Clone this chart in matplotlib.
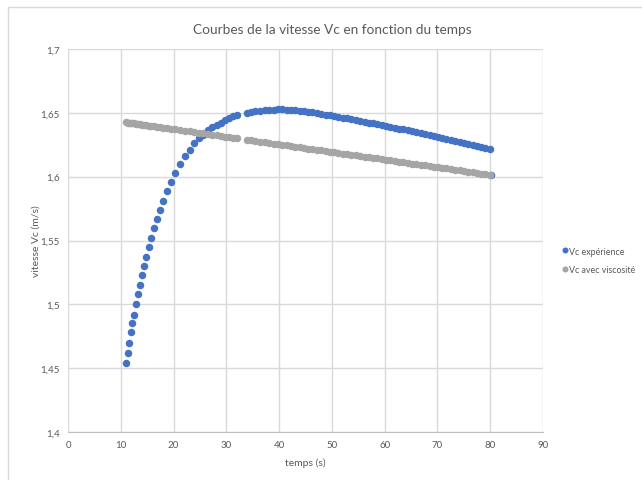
import matplotlib
matplotlib.use("Agg")
import matplotlib.pyplot as plt
from matplotlib.patches import Rectangle

# temps (s), communs aux deux séries
temps = [11.04, 11.30, 11.60, 11.88, 12.17, 12.45, 12.82, 13.20, 13.58, 14.00,
         14.40, 14.85, 15.30, 15.80, 16.30, 16.85, 17.42, 18.00, 18.70, 19.45,
         20.30, 21.20, 22.15, 23.05, 23.90, 24.75, 25.62, 26.50, 27.35, 28.16,
         28.95, 29.73, 30.50, 31.30, 32.07, 33.84, 34.66, 35.47, 36.36, 37.25,
         38.13, 39.0, 39.8, 40.6, 41.4, 42.2, 43.0, 43.9, 44.7, 45.5,
         46.3, 47.1, 48.0, 48.8, 49.6, 50.4, 51.2, 52.1, 52.9, 53.7,
         54.5, 55.3, 56.2, 57.0, 57.8, 58.6, 59.4, 60.3, 61.1, 61.9,
         62.7, 63.5, 64.4, 65.2, 66.0, 66.8, 67.6, 68.5, 69.3, 70.1,
         70.9, 71.7, 72.6, 73.4, 74.2, 75.0, 75.8, 76.7, 77.5, 78.3,
         79.1, 79.9]

# vitesse mesurée (m/s)
v_exp = [1.454, 1.462, 1.470, 1.478, 1.485, 1.492, 1.500, 1.508, 1.515, 1.523,
         1.530, 1.537, 1.545, 1.552, 1.560, 1.567, 1.574, 1.581, 1.589, 1.596,
         1.603, 1.610, 1.616, 1.621, 1.626, 1.630, 1.633, 1.6365, 1.639, 1.6405,
         1.6423, 1.6442, 1.6458, 1.6472, 1.6485, 1.6496, 1.6504, 1.6512, 1.6517, 1.6520,
         1.6523, 1.6525, 1.6527, 1.6527, 1.6526, 1.6524, 1.6521, 1.6517, 1.6514, 1.6509,
         1.6503, 1.6497, 1.6491, 1.6485, 1.6481, 1.6475, 1.6469, 1.6462, 1.6456, 1.6450,
         1.6444, 1.6438, 1.6430, 1.6424, 1.6418, 1.6411, 1.6405, 1.6397, 1.6391, 1.6384,
         1.6377, 1.6371, 1.6363, 1.6356, 1.6349, 1.6342, 1.6335, 1.6327, 1.6320, 1.6313,
         1.6305, 1.6297, 1.6289, 1.6281, 1.6274, 1.6266, 1.6258, 1.6249, 1.6241, 1.6232,
         1.6224, 1.6216]
# dernier point isolé de la série expérience
t_fin = 80.2
v_fin = 1.6010

# vitesse calculée avec viscosité (m/s)
v_visc = [1.6426, 1.6424, 1.6422, 1.6421, 1.6419, 1.6417, 1.6415, 1.6413, 1.6411, 1.6408,
          1.6406, 1.6403, 1.6400, 1.6397, 1.6394, 1.6391, 1.6388, 1.6384, 1.6380, 1.6376,
          1.6371, 1.6365, 1.6360, 1.6354, 1.6349, 1.6344, 1.6339, 1.6334, 1.6329, 1.6324,
          1.6319, 1.6314, 1.6310, 1.6305, 1.6300, 1.6290, 1.6285, 1.6280, 1.6275, 1.6270,
          1.6264, 1.6259, 1.6254, 1.6250, 1.6245, 1.6240, 1.6235, 1.6230, 1.6225, 1.6220,
          1.6215, 1.6211, 1.6205, 1.6201, 1.6196, 1.6191, 1.6186, 1.6181, 1.6176, 1.6172,
          1.6167, 1.6162, 1.6157, 1.6152, 1.6148, 1.6143, 1.6138, 1.6133, 1.6128, 1.6123,
          1.6118, 1.6114, 1.6108, 1.6103, 1.6098, 1.6094, 1.6089, 1.6084, 1.6079, 1.6074,
          1.6069, 1.6064, 1.6059, 1.6054, 1.6049, 1.6044, 1.6039, 1.6034, 1.6029, 1.6024,
          1.6019, 1.6014]

xticks = [0, 10, 20, 30, 40, 50, 60, 70, 80, 90]
yticks = [1.4, 1.45, 1.5, 1.55, 1.6, 1.65, 1.7]
ylabels = ["1,4", "1,45", "1,5", "1,55", "1,6", "1,65", "1,7"]

c_exp = "#4472C4"
c_visc = "#A5A5A5"
c_txt = "#595959"
c_grid = "#D9D9D9"

plt.rcParams["font.family"] = ["Lato", "DejaVu Sans"]

fig = plt.figure(figsize=(6.42, 4.81), dpi=100)
fig.patch.set_facecolor("white")
# cadre du graphique (coupé à droite et en bas)
fig.patches.append(Rectangle((8 / 642, -0.1), 1.2, 1.1 - 8 / 481, transform=fig.transFigure,
                             fill=False, edgecolor="#D9D9D9", lw=1))

ax = fig.add_axes([68 / 642, 1 - 433 / 481, (543 - 68) / 642, (433 - 50) / 481])

ax.plot(temps + [t_fin], v_exp + [v_fin], "o", color=c_exp, ms=5.4, mew=0,
        label="Vc expérience", zorder=3)
ax.plot(temps, v_visc, "o", color=c_visc, ms=5.4, mew=0,
        label="Vc avec viscosité", zorder=4)

ax.set_xlim(0, 90)
ax.set_ylim(1.4, 1.7)
ax.set_xticks(xticks)
ax.set_yticks(yticks)
ax.set_yticklabels(ylabels)
ax.grid(True, color=c_grid, lw=1)
ax.set_axisbelow(True)
for s in ["top", "right", "left"]:
    ax.spines[s].set_visible(False)
ax.spines["bottom"].set_color("#BFBFBF")
ax.tick_params(length=0, labelsize=7, colors=c_txt, pad=6)

# titre centré sur la zone du graphique, pas sur les axes
fig.text(332 / 642, 1 - 30 / 481, "Courbes de la vitesse Vc en fonction du temps",
         fontsize=9.8, color=c_txt, ha="center", va="center")
ax.set_xlabel("temps (s)", fontsize=7.5, color=c_txt, labelpad=6)
ax.set_ylabel("vitesse Vc (m/s)", fontsize=7.5, color=c_txt, labelpad=0)

ax.legend(loc="center left", bbox_to_anchor=(1.025, 0.448), frameon=False,
          fontsize=6.4, labelcolor=c_txt, handletextpad=0.05, markerscale=0.8,
          labelspacing=1.1, handlelength=0.8, borderpad=0.2)

fig.savefig("out.png", dpi=100)
